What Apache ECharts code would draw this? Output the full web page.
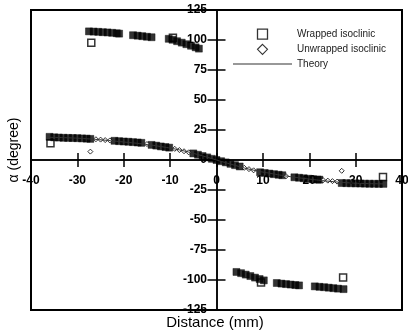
<!DOCTYPE html>
<html>
<head>
<meta charset="utf-8">
<script src="https://cdn.jsdelivr.net/npm/echarts@6/dist/echarts.min.js"></script>
<style>html,body{margin:0;padding:0;background:#fff;}#c{width:408px;height:335px;}</style>
</head>
<body>
<div id="c"></div>
<script>
// ---- data ----
const xTicks = [-40, -30, -20, -10, 0, 10, 20, 30, 40];
const yTicks = [-125, -100, -75, -50, -25, 0, 25, 50, 75, 100, 125];

// Wrapped isoclinic: dense measured runs (mm, degree)
const wrappedUpper = [
  [-27.5,107.2],[-26.5,107],[-25.5,106.8],[-24.5,106.5],[-23.5,106.3],[-22.5,106],[-21.5,105.6],[-21,105.3],
  [-18,104],[-17,103.6],[-16,103.2],[-15,102.7],[-14,102.3],
  [-10.3,101],[-9.5,100.2],[-8.5,99],[-7.5,97.8],[-6.5,96.5],[-5.5,95.2],[-4.5,93.9],[-3.8,92.8]
];
const wrappedLower = [
  [4.3,-93.3],[5.3,-94.3],[6.3,-95.5],[7.3,-96.7],[8.3,-98],[9.3,-99.2],[10.2,-100.3],
  [13,-102.5],[14,-103],[15,-103.4],[16,-103.8],[17,-104.2],[17.8,-104.5],
  [21.2,-105.3],[22.2,-105.7],[23.2,-106],[24.2,-106.4],[25.2,-106.8],[26.2,-107.2],[27.4,-107.6]
];
const wrappedBand = [
  [-36,19.3],[-35,18.9],[-34,18.7],[-33,18.5],[-32,18.4],[-31,18.3],[-30,18.2],[-29,18],[-28,17.8],[-27.2,17.6],
  [-22,16],[-21,15.7],[-20,15.4],[-19,15.2],[-18,14.9],[-17,14.6],[-16.2,14.3],
  [-14,12.6],[-13,12],[-12,11.3],[-11,10.8],[-10.2,10.3],
  [-5,5.5],[-4,4.4],[-3,3.3],[-2,2.2],[-1,1],[0,0],[1,-1],[2,-2],[3,-3.2],[4,-4.3],[5,-5.4],
  [9.4,-10.2],[10.4,-10.8],[11.4,-11.3],[12.4,-11.8],[13.4,-12.3],[14.2,-12.7],
  [16.8,-14.4],[17.8,-14.8],[18.8,-15.2],[19.8,-15.6],[20.8,-16],[21.8,-16.3],[22.2,-16.4],
  [27,-19.2],[28,-19.3],[29,-19.4],[30,-19.5],[31,-19.6],[32,-19.7],[33,-19.8],[34,-19.8],[35,-19.9],[36,-19.9]
];
// Wrapped isoclinic: isolated hollow squares
const wrappedSingles = [
  [-27,97.7],[-9.4,101.8],[-35.8,13.9],[9.6,-102],[27.3,-98],[35.9,-14.2]
];
// Unwrapped isoclinic (diamonds)
const unwrapped = [
  [-26,17.3],[-25,17],[-24,16.6],[-23,16.3],[-15,13.3],[-9,9.3],[-8,8.3],[-7,7.3],[-6,6.4],
  [6,-6.5],[7,-7.6],[8,-8.6],[15,-13.5],[23,-16.8],[24,-17.2],[25,-17.6],[26,-18],
  [-27.2,7],[27,-9]
];
// Theory curve
const theoryX = [-36,-32,-28,-24,-20,-16,-12,-8,-4,0,4,8,12,16,20,24,28,32,36];
const theoryY = [18.9,18.5,17.7,16.5,15,13.4,11.2,8.4,4.5,0,-4.5,-8.5,-11.4,-13.9,-15.9,-17.6,-18.9,-19.6,-19.9];

// ---- chart ----
const chart = echarts.init(document.getElementById('c'), null, {renderer: 'canvas'});
const FONT = 'Liberation Sans, Arial, sans-serif';
const xMin = xTicks[0], xMax = xTicks[xTicks.length - 1], xStep = xTicks[1] - xTicks[0];
const yMin = yTicks[0], yMax = yTicks[yTicks.length - 1], yStep = yTicks[1] - yTicks[0];

const axisLabelStyle = {fontFamily: FONT, fontSize: 12, fontWeight: 'bold', color: '#000', hideOverlap: false};
const lineSt = {color: '#000', width: 1.5};
const gridRect = {left: 31, right: 6, top: 10, bottom: 25, containLabel: false, outerBoundsMode: 'none'};

// labels are placed next to the zero lines (axes cross at the origin)
function xAxisDef(gi, inside, labels) {
  return {type: 'value', gridIndex: gi, min: xMin, max: xMax, interval: xStep, position: 'bottom',
    splitLine: {show: false},
    axisLine: {onZero: true, lineStyle: lineSt},
    axisTick: {show: true, inside: inside, length: 7, lineStyle: lineSt},
    axisLabel: labels ? Object.assign({margin: -135}, axisLabelStyle) : {show: false}};
}
function yAxisDef(gi, inside, labels) {
  return {type: 'value', gridIndex: gi, min: yMin, max: yMax, interval: yStep, position: 'left',
    splitLine: {show: false},
    axisLine: {onZero: true, lineStyle: lineSt},
    axisTick: {show: true, inside: inside, length: 9, lineStyle: lineSt},
    axisLabel: labels ? Object.assign({margin: -176}, axisLabelStyle) : {show: false}};
}

chart.setOption({
  animation: false,
  backgroundColor: '#fff',
  grid: [
    Object.assign({show: true, borderColor: '#000', borderWidth: 2}, gridRect),
    Object.assign({show: false}, gridRect)
  ],
  xAxis: [xAxisDef(0, false, true), xAxisDef(1, true, false)],
  yAxis: [yAxisDef(0, false, true), yAxisDef(1, true, false)],
  legend: {
    orient: 'vertical',
    left: 228, top: 23.5,
    itemWidth: 59, itemHeight: 10, itemGap: 4,
    symbolKeepAspect: true,
    textStyle: {fontFamily: FONT, fontSize: 10, color: '#222'},
    data: [
      {name: 'Wrapped isoclinic', icon: 'path://M0,0H9V9H0Z',
       itemStyle: {color: '#fff', borderColor: '#000', borderWidth: 1.3}},
      {name: 'Unwrapped isoclinic', icon: 'path://M4.5,0L9,4.5L4.5,9L0,4.5Z',
       itemStyle: {color: '#fff', borderColor: '#000', borderWidth: 1.1}},
      {name: 'Theory', icon: 'path://M0,0H59V1H0Z',
       itemStyle: {color: '#333', borderWidth: 0}}
    ]
  },
  series: [
    {
      name: 'Theory', type: 'line', xAxisIndex: 0, yAxisIndex: 0,
      data: theoryX.map((x, i) => [x, theoryY[i]]),
      smooth: true, symbol: 'none', showSymbol: false,
      lineStyle: {color: '#333', width: 1},
      itemStyle: {color: '#333'}
    },
    {
      name: 'Wrapped isoclinic', type: 'scatter', xAxisIndex: 0, yAxisIndex: 0,
      data: wrappedSingles, symbol: 'rect', symbolSize: 7,
      itemStyle: {color: '#fff', borderColor: '#000', borderWidth: 1.5}
    },
    {
      name: 'Wrapped isoclinic', type: 'scatter', xAxisIndex: 0, yAxisIndex: 0,
      data: wrappedUpper.concat(wrappedLower, wrappedBand), symbol: 'rect', symbolSize: 7,
      itemStyle: {color: '#000', borderColor: '#000', borderWidth: 0.5}
    },
    {
      name: 'Unwrapped isoclinic', type: 'scatter', xAxisIndex: 0, yAxisIndex: 0,
      data: unwrapped, symbol: 'diamond', symbolSize: 5,
      itemStyle: {color: '#fff', borderColor: '#000', borderWidth: 1}
    }
  ],
  graphic: [
    {type: 'text', x: 14, y: 150, rotation: Math.PI / 2,
     style: {text: 'α (degree)', font: '14px ' + FONT, fill: '#000', textAlign: 'center', textVerticalAlign: 'middle'}},
    {type: 'text', x: 215, y: 323,
     style: {text: 'Distance (mm)', font: '15px ' + FONT, fill: '#000', textAlign: 'center', textVerticalAlign: 'middle'}}
  ]
});
</script>
</body>
</html>
